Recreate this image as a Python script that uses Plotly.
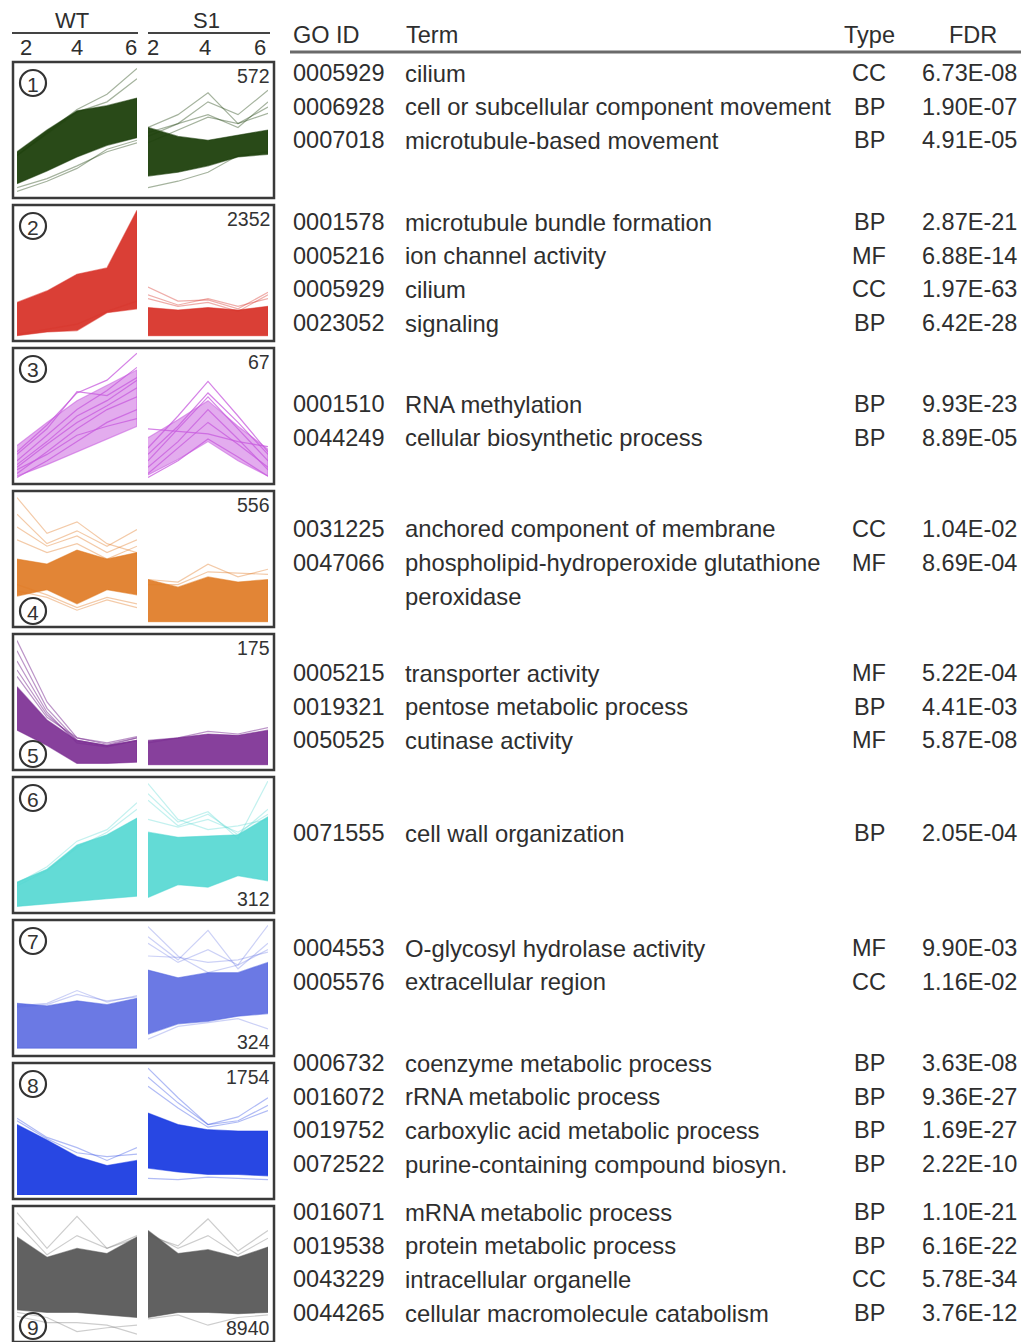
import plotly.graph_objects as go

W, H = 1026, 1342

# ---------------- data ----------------
time_points = [2, 3, 4, 5, 6]
cluster_labels = ["1", "2", "3", "4", "5", "6", "7", "8", "9"]
cluster_sizes = [572, 2352, 67, 556, 175, 312, 324, 1754, 8940]
cluster_colors = ["#1d400c", "#d8352b", "#c75ade", "#e07b25", "#7a2b91",
                  "#52d7d2", "#5667e0", "#1c3de2", "#585858"]

# normalised expression profiles (0 = bottom of panel, 1 = top)
wt_upper = [
    [0.33, 0.50, 0.65, 0.69, 0.75],
    [0.27, 0.36, 0.49, 0.54, 0.99],
    [0.27, 0.45, 0.62, 0.74, 0.86],
    [0.50, 0.46, 0.57, 0.50, 0.55],
    [0.62, 0.36, 0.20, 0.16, 0.20],
    [0.21, 0.31, 0.50, 0.58, 0.71],
    [0.38, 0.36, 0.40, 0.37, 0.42],
    [0.55, 0.43, 0.30, 0.23, 0.27],
    [0.79, 0.63, 0.70, 0.66, 0.79],
]
wt_lower = [
    [0.08, 0.18, 0.29, 0.38, 0.44],
    [0.01, 0.04, 0.05, 0.19, 0.22],
    [0.03, 0.12, 0.22, 0.32, 0.42],
    [0.21, 0.26, 0.15, 0.26, 0.22],
    [0.28, 0.16, 0.02, 0.02, 0.03],
    [0.02, 0.04, 0.06, 0.08, 0.10],
    [0.03, 0.03, 0.03, 0.03, 0.03],
    [0.00, 0.00, 0.00, 0.00, 0.00],
    [0.22, 0.20, 0.20, 0.18, 0.16],
]
s1_upper = [
    [0.52, 0.45, 0.42, 0.46, 0.50],
    [0.23, 0.21, 0.23, 0.21, 0.24],
    [0.33, 0.47, 0.62, 0.42, 0.24],
    [0.34, 0.28, 0.36, 0.32, 0.34],
    [0.20, 0.22, 0.25, 0.24, 0.28],
    [0.60, 0.56, 0.57, 0.58, 0.72],
    [0.64, 0.58, 0.62, 0.62, 0.70],
    [0.64, 0.55, 0.51, 0.50, 0.50],
    [0.84, 0.66, 0.69, 0.63, 0.71],
]
s1_lower = [
    [0.14, 0.17, 0.22, 0.29, 0.31],
    [0.01, 0.01, 0.01, 0.01, 0.01],
    [0.04, 0.16, 0.30, 0.15, 0.03],
    [0.01, 0.01, 0.01, 0.01, 0.01],
    [0.01, 0.01, 0.01, 0.01, 0.01],
    [0.09, 0.19, 0.17, 0.26, 0.22],
    [0.14, 0.22, 0.24, 0.28, 0.30],
    [0.21, 0.18, 0.16, 0.16, 0.15],
    [0.16, 0.20, 0.20, 0.19, 0.20],
]
wt_outliers = [
    [[0.30, 0.48, 0.66, 0.78, 0.98], [0.30, 0.47, 0.64, 0.72, 0.90],
     [0.05, 0.12, 0.22, 0.33, 0.40], [0.02, 0.10, 0.20, 0.35, 0.42]],
    [[0.02, 0.06, 0.10, 0.20, 0.28]],
    [[0.22, 0.43, 0.68, 0.78, 0.99], [0.15, 0.35, 0.55, 0.70, 0.88],
     [0.10, 0.28, 0.45, 0.58, 0.72], [0.05, 0.22, 0.40, 0.55, 0.65],
     [0.02, 0.15, 0.30, 0.45, 0.55], [0.08, 0.20, 0.35, 0.42, 0.48],
     [0.20, 0.40, 0.69, 0.66, 0.80], [0.12, 0.30, 0.50, 0.62, 0.78]],
    [[0.98, 0.70, 0.79, 0.62, 0.55], [0.85, 0.62, 0.72, 0.60, 0.73],
     [0.75, 0.60, 0.68, 0.55, 0.65], [0.65, 0.55, 0.62, 0.50, 0.60],
     [0.25, 0.20, 0.10, 0.18, 0.12], [0.30, 0.22, 0.12, 0.20, 0.15]],
    [[0.98, 0.50, 0.22, 0.17, 0.22], [0.90, 0.45, 0.20, 0.16, 0.20],
     [0.82, 0.42, 0.18, 0.15, 0.20], [0.75, 0.40, 0.20, 0.16, 0.22],
     [0.70, 0.38, 0.22, 0.18, 0.23]],
    [[0.20, 0.33, 0.53, 0.62, 0.83], [0.18, 0.30, 0.48, 0.60, 0.78]],
    [[0.36, 0.38, 0.48, 0.39, 0.44], [0.35, 0.37, 0.45, 0.40, 0.43]],
    [[0.60, 0.45, 0.37, 0.27, 0.37], [0.58, 0.44, 0.33, 0.30, 0.32]],
    [[0.98, 0.70, 0.95, 0.70, 0.80], [0.90, 0.65, 0.80, 0.70, 0.78],
     [0.17, 0.12, 0.12, 0.10, 0.03], [0.20, 0.16, 0.05, 0.08, 0.10]],
]
s1_outliers = [
    [[0.52, 0.62, 0.79, 0.55, 0.63], [0.45, 0.55, 0.72, 0.62, 0.81],
     [0.40, 0.50, 0.60, 0.55, 0.68], [0.05, 0.10, 0.17, 0.30, 0.33],
     [0.48, 0.55, 0.62, 0.52, 0.72]],
    [[0.39, 0.28, 0.29, 0.22, 0.35], [0.33, 0.25, 0.30, 0.24, 0.30],
     [0.30, 0.24, 0.27, 0.20, 0.33]],
    [[0.25, 0.50, 0.77, 0.50, 0.22], [0.15, 0.40, 0.65, 0.40, 0.15],
     [0.10, 0.30, 0.55, 0.32, 0.08], [0.05, 0.25, 0.45, 0.28, 0.10],
     [0.40, 0.38, 0.36, 0.30, 0.26], [0.02, 0.15, 0.32, 0.18, 0.03],
     [0.20, 0.42, 0.68, 0.45, 0.20]],
    [[0.34, 0.32, 0.46, 0.36, 0.42], [0.30, 0.30, 0.40, 0.39, 0.38]],
    [[0.18, 0.22, 0.27, 0.25, 0.30]],
    [[0.98, 0.70, 0.62, 0.65, 0.70], [0.90, 0.68, 0.76, 0.55, 1.00],
     [0.85, 0.65, 0.74, 0.58, 0.78], [0.70, 0.64, 0.70, 0.60, 0.74]],
    [[0.98, 0.75, 0.62, 0.68, 0.99], [0.90, 0.72, 0.95, 0.65, 0.85],
     [0.85, 0.70, 0.80, 0.68, 0.80], [0.75, 0.74, 0.70, 0.72, 0.78],
     [0.10, 0.20, 0.23, 0.26, 0.18]],
    [[0.99, 0.76, 0.55, 0.61, 0.76], [0.92, 0.72, 0.55, 0.58, 0.70],
     [0.85, 0.68, 0.53, 0.57, 0.66], [0.13, 0.12, 0.14, 0.13, 0.12]],
    [[0.80, 0.72, 0.93, 0.68, 0.84], [0.82, 0.70, 0.80, 0.65, 0.78],
     [0.15, 0.18, 0.10, 0.16, 0.18]],
]

# GO enrichment table
go_cluster = [1, 1, 1, 2, 2, 2, 2, 3, 3, 4, 4, 5, 5, 5, 6, 7, 7, 8, 8, 8, 8, 9, 9, 9, 9]
go_ids = ["0005929", "0006928", "0007018",
          "0001578", "0005216", "0005929", "0023052",
          "0001510", "0044249",
          "0031225", "0047066",
          "0005215", "0019321", "0050525",
          "0071555",
          "0004553", "0005576",
          "0006732", "0016072", "0019752", "0072522",
          "0016071", "0019538", "0043229", "0044265"]
go_terms = ["cilium", "cell or subcellular component movement", "microtubule-based movement",
            "microtubule bundle formation", "ion channel activity", "cilium", "signaling",
            "RNA methylation", "cellular biosynthetic process",
            "anchored component of membrane",
            "phospholipid-hydroperoxide glutathione\nperoxidase",
            "transporter activity", "pentose metabolic process", "cutinase activity",
            "cell wall organization",
            "O-glycosyl hydrolase activity", "extracellular region",
            "coenzyme metabolic process", "rRNA metabolic process",
            "carboxylic acid metabolic process", "purine-containing compound biosyn.",
            "mRNA metabolic process", "protein metabolic process",
            "intracellular organelle", "cellular macromolecule catabolism"]
go_types = ["CC", "BP", "BP", "BP", "MF", "CC", "BP", "BP", "BP", "CC", "MF",
            "MF", "BP", "MF", "BP", "MF", "CC", "BP", "BP", "BP", "BP",
            "BP", "BP", "CC", "BP"]
go_fdr = ["6.73E-08", "1.90E-07", "4.91E-05",
          "2.87E-21", "6.88E-14", "1.97E-63", "6.42E-28",
          "9.93E-23", "8.89E-05",
          "1.04E-02", "8.69E-04",
          "5.22E-04", "4.41E-03", "5.87E-08",
          "2.05E-04",
          "9.90E-03", "1.16E-02",
          "3.63E-08", "9.36E-27", "1.69E-27", "2.22E-10",
          "1.10E-21", "6.16E-22", "5.78E-34", "3.76E-12"]

# ---------------- layout constants (pixels) ----------------
BOX_TOP = [62 + 143 * i for i in range(9)]
BOX_H = 136
SUB_X = [(17, 137), (148, 268)]
FIRST_ROW_Y = [73, 222, 404, 529, 673, 833, 948, 1063, 1212]
ROW_STEP = 33.7
CIRCLE_AT_TOP = [True, True, True, False, False, True, True, True, False]
COUNT_AT_TOP = [True, True, True, True, True, False, False, True, False]
BAND_OPACITY = [0.95, 0.95, 0.5, 0.92, 0.9, 0.9, 0.88, 0.95, 0.95]
LINE_OPACITY = [0.4, 0.4, 0.75, 0.4, 0.5, 0.35, 0.3, 0.35, 0.3]

TXT = "#2e2e2e"
FONT = "Liberation Sans, Arial, sans-serif"


def px(x):
    return x / W


def py(y):
    return 1 - y / H


def rgba(hexc, a):
    h = hexc.lstrip("#")
    r, g, b = int(h[0:2], 16), int(h[2:4], 16), int(h[4:6], 16)
    return f"rgba({r},{g},{b},{a})"


fig = go.Figure()
layout = dict(width=W, height=H, margin=dict(l=0, r=0, t=0, b=0),
              paper_bgcolor="white", plot_bgcolor="white", showlegend=False)
shapes = []
annotations = []

for i in range(9):
    col = cluster_colors[i]
    sets = [(wt_upper[i], wt_lower[i], wt_outliers[i]),
            (s1_upper[i], s1_lower[i], s1_outliers[i])]
    for j, (up, lo, outl) in enumerate(sets):
        n = i * 2 + j + 1
        sfx = "" if n == 1 else str(n)
        xa, ya = "x" + sfx, "y" + sfx
        layout["xaxis" + sfx] = dict(domain=[px(SUB_X[j][0]), px(SUB_X[j][1])],
                                     range=[2, 6], visible=False, anchor=ya,
                                     fixedrange=True)
        layout["yaxis" + sfx] = dict(domain=[py(BOX_TOP[i] + BOX_H - 4), py(BOX_TOP[i] + 4)],
                                     range=[0, 1], visible=False, anchor=xa,
                                     fixedrange=True)
        fig.add_trace(go.Scatter(
            x=time_points + time_points[::-1], y=up + lo[::-1],
            fill="toself", fillcolor=rgba(col, BAND_OPACITY[i]),
            mode="lines", line=dict(width=1.2, color=rgba(col, 0.55)),
            xaxis=xa, yaxis=ya, hoverinfo="skip"))
        for ln in outl:
            fig.add_trace(go.Scatter(
                x=time_points, y=ln, mode="lines",
                line=dict(width=1.2, color=rgba(col, LINE_OPACITY[i])),
                xaxis=xa, yaxis=ya, hoverinfo="skip"))

    # panel box
    t = BOX_TOP[i]
    shapes.append(dict(type="rect", xref="paper", yref="paper",
                       x0=px(13), x1=px(274), y0=py(t + BOX_H), y1=py(t),
                       line=dict(color="#3a3a3a", width=2.5)))
    # circled number
    cy = t + 21 if CIRCLE_AT_TOP[i] else t + BOX_H - 16
    shapes.append(dict(type="circle", xref="paper", yref="paper",
                       x0=px(20), x1=px(46), y0=py(cy + 13), y1=py(cy - 13),
                       line=dict(color="#333333", width=2.2)))
    annotations.append(dict(x=px(33), y=py(cy + 1), xref="paper", yref="paper",
                            text=cluster_labels[i], showarrow=False,
                            xanchor="center", yanchor="middle",
                            font=dict(family=FONT, size=21, color="#333333")))
    # cluster size
    cyy = t + 14 if COUNT_AT_TOP[i] else t + BOX_H - 14
    annotations.append(dict(x=px(272), y=py(cyy), xref="paper", yref="paper",
                            text=str(cluster_sizes[i]), showarrow=False,
                            xanchor="right", yanchor="middle",
                            font=dict(family=FONT, size=19.5, color="#333333")))

# header of profiles
for j, name in enumerate(["WT", "S1"]):
    x0, x1 = (12, 138) if j == 0 else (148, 270)
    annotations.append(dict(x=px((x0 + x1) / 2 - 3), y=py(20), xref="paper", yref="paper",
                            text=name, showarrow=False, xanchor="center", yanchor="middle",
                            font=dict(family=FONT, size=22, color=TXT)))
    shapes.append(dict(type="line", xref="paper", yref="paper",
                       x0=px(x0), x1=px(x1), y0=py(33), y1=py(33),
                       line=dict(color="#444444", width=2)))
    xs = [26, 77, 131] if j == 0 else [153, 205, 260]
    for xv, lab in zip(xs, ["2", "4", "6"]):
        annotations.append(dict(x=px(xv), y=py(48), xref="paper", yref="paper",
                                text=lab, showarrow=False, xanchor="center",
                                yanchor="middle",
                                font=dict(family=FONT, size=22, color=TXT)))

# table header
for text, xv, anc in [("GO ID", 291, "left"), ("Term", 404, "left"),
                      ("Type", 869, "center"), ("FDR", 973, "center")]:
    annotations.append(dict(x=px(xv), y=py(35), xref="paper", yref="paper",
                            text=text, showarrow=False, xanchor=anc, yanchor="middle",
                            font=dict(family=FONT, size=23.5, color=TXT)))
shapes.append(dict(type="line", xref="paper", yref="paper",
                   x0=px(290), x1=px(1021), y0=py(52), y1=py(52),
                   line=dict(color="#6a6a6a", width=3)))

# table rows
row_in_cluster = {}
for k in range(len(go_ids)):
    c = go_cluster[k] - 1
    r = row_in_cluster.get(c, 0)
    yrow = FIRST_ROW_Y[c] + r * ROW_STEP
    term_lines = go_terms[k].split("\n")
    row_in_cluster[c] = r + len(term_lines)
    cells = [(go_ids[k], 291, "left"), (go_types[k], 869, "center"),
             (go_fdr[k], 1019, "right")]
    for text, xv, anc in cells:
        annotations.append(dict(x=px(xv), y=py(yrow), xref="paper", yref="paper",
                                text=text, showarrow=False, xanchor=anc, yanchor="middle",
                                font=dict(family=FONT, size=23.5, color=TXT)))
    for li, tl in enumerate(term_lines):
        annotations.append(dict(x=px(403), y=py(yrow + li * ROW_STEP), xref="paper",
                                yref="paper", text=tl, showarrow=False,
                                xanchor="left", yanchor="middle",
                                font=dict(family=FONT, size=23.8, color=TXT)))

layout["shapes"] = shapes
layout["annotations"] = annotations
fig.update_layout(**layout)
fig.write_html("out.html", config={"displayModeBar": False},
               post_script="document.body.style.margin='0';document.body.style.overflow='hidden';")
